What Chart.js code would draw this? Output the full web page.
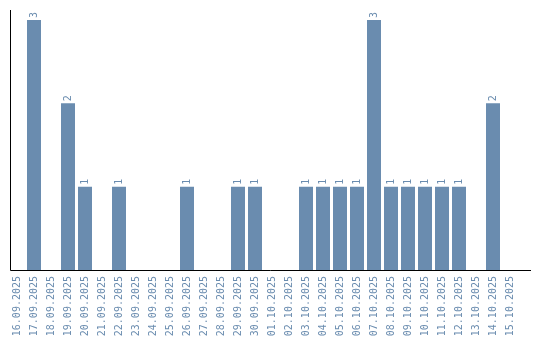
<!DOCTYPE html>
<html>
<head>
<meta charset="utf-8">
<script src="https://cdn.jsdelivr.net/npm/chart.js@4/dist/chart.umd.min.js"></script>
<style>
  html, body { margin: 0; padding: 0; background: #fff; }
  #wrap { width: 540px; height: 340px; }
</style>
</head>
<body>
<div id="wrap"><canvas id="c"></canvas></div>
<script>
  const labels = [
    '16.09.2025', '17.09.2025', '18.09.2025', '19.09.2025', '20.09.2025',
    '21.09.2025', '22.09.2025', '23.09.2025', '24.09.2025', '25.09.2025',
    '26.09.2025', '27.09.2025', '28.09.2025', '29.09.2025', '30.09.2025',
    '01.10.2025', '02.10.2025', '03.10.2025', '04.10.2025', '05.10.2025',
    '06.10.2025', '07.10.2025', '08.10.2025', '09.10.2025', '10.10.2025',
    '11.10.2025', '12.10.2025', '13.10.2025', '14.10.2025', '15.10.2025',
  ];
  const counts = [
    0, 3, 0, 2, 1, 0, 1, 0, 0, 0,
    1, 0, 0, 1, 1, 0, 0, 1, 1, 1,
    1, 3, 1, 1, 1, 1, 1, 0, 2, 0,
  ];

  const BAR = '#6a8caf';
  const FONT = '"DejaVu Sans Mono", monospace';

  // value labels drawn vertically above each bar
  const barLabels = {
    id: 'barLabels',
    afterDatasetsDraw(chart) {
      const ctx = chart.ctx;
      const meta = chart.getDatasetMeta(0);
      ctx.save();
      ctx.fillStyle = BAR;
      ctx.font = '10px ' + FONT;
      ctx.textAlign = 'left';
      ctx.textBaseline = 'middle';
      meta.data.forEach(function (bar, i) {
        const v = counts[i];
        if (!v) return;
        ctx.save();
        ctx.translate(bar.x, bar.y - 2);
        ctx.rotate(-Math.PI / 2);
        ctx.fillText(String(v), 0, 0);
        ctx.restore();
      });
      ctx.restore();
    },
  };

  // axis lines: y line sits a bit right of the band start, x line runs past the last band
  const axisLines = {
    id: 'axisLines',
    afterDraw(chart) {
      const { top, bottom } = chart.chartArea;
      const ctx = chart.ctx;
      const x0 = 10.5;
      const yb = Math.round(bottom) + 0.5;
      ctx.save();
      ctx.strokeStyle = '#000';
      ctx.lineWidth = 1;
      ctx.beginPath();
      ctx.moveTo(x0, Math.round(top));
      ctx.lineTo(x0, yb);
      ctx.lineTo(531, yb);
      ctx.stroke();
      ctx.restore();
    },
  };

  new Chart(document.getElementById('c'), {
    type: 'bar',
    data: {
      labels,
      datasets: [{
        data: counts,
        backgroundColor: BAR,
        borderWidth: 0,
        categoryPercentage: 1,
        barPercentage: 14 / 17,
      }],
    },
    options: {
      responsive: true,
      maintainAspectRatio: false,
      animation: false,
      layout: { padding: { left: 8.5, right: 21.5, top: 10, bottom: 0 } },
      plugins: { legend: { display: false }, tooltip: { enabled: false } },
      scales: {
        x: {
          grid: { display: false, drawTicks: false },
          border: { display: false },
          afterFit(scale) { scale.height = 70; },
          ticks: {
            color: BAR,
            font: { family: FONT, size: 10 },
            maxRotation: 90,
            minRotation: 90,
            autoSkip: false,
            padding: 6,
          },
        },
        y: {
          display: false,
          min: 0,
          max: 3.12,
        },
      },
    },
    plugins: [barLabels, axisLines],
  });
</script>
</body>
</html>
